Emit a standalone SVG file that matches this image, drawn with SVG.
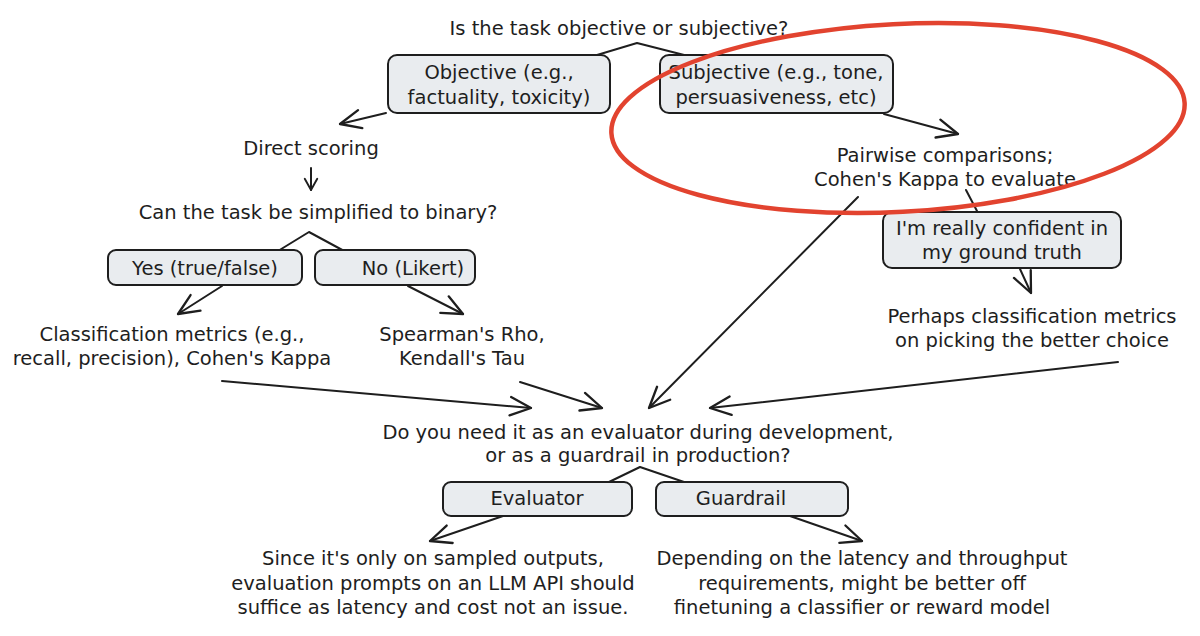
<svg xmlns="http://www.w3.org/2000/svg" width="1200" height="636" viewBox="0 0 1200 636">
  <style>
    .t { font-family: "DejaVu Sans", "Liberation Sans", sans-serif; font-size: 19.5px; fill: #1e1e1e; text-anchor: middle; dominant-baseline: central; }
    .box { fill: #e9ecef; stroke: #1e1e1e; stroke-width: 2; }
    .c { fill: none; stroke: #1e1e1e; stroke-width: 2; stroke-linecap: round; stroke-linejoin: round; }
    .a { marker-end: url(#ah); }
    .hl { fill: none; stroke: #e2432f; stroke-width: 4.5; }
  </style>
  <defs>
    <marker id="ah" markerUnits="userSpaceOnUse" markerWidth="30" markerHeight="30" refX="0" refY="0" viewBox="-22 -12 26 24" orient="auto" overflow="visible">
      <path d="M -18 -8 L 0 0 L -18 8" fill="none" stroke="#1e1e1e" stroke-width="2" stroke-linecap="round" stroke-linejoin="round"/>
    </marker>
    <marker id="ahs" markerUnits="userSpaceOnUse" markerWidth="20" markerHeight="20" refX="0" refY="0" viewBox="-12 -8 16 16" orient="auto" overflow="visible">
      <path d="M -9 -5 L 0 0 L -9 5" fill="none" stroke="#1e1e1e" stroke-width="1.5" stroke-linecap="round" stroke-linejoin="round"/>
    </marker>
  </defs>
  <rect width="1200" height="636" fill="#ffffff"/>

  <g id="connectors">
    <polyline class="c" points="597,55 637,43 692,57"/>
    <line class="c a" x1="386" y1="113" x2="340" y2="124"/>
    <line class="c" x1="311" y1="168" x2="311" y2="190" stroke-width="1.5" marker-end="url(#ahs)"/>
    <polyline class="c" points="278,251 309,232 346,252"/>
    <line class="c a" x1="222" y1="286" x2="178" y2="314"/>
    <line class="c a" x1="408" y1="286" x2="463" y2="314"/>
    <line class="c a" x1="884" y1="114" x2="958" y2="134"/>
    <line class="c" x1="966" y1="190" x2="977" y2="211" stroke-width="1.5"/>
    <line class="c a" x1="1020" y1="269" x2="1031" y2="293"/>
    <line class="c a" x1="222" y1="381" x2="531" y2="408"/>
    <line class="c a" x1="520" y1="382" x2="602" y2="408"/>
    <line class="c a" x1="858" y1="197" x2="649" y2="408"/>
    <line class="c a" x1="1118" y1="362" x2="710" y2="408"/>
    <polyline class="c" points="609,482 640,467 684,482"/>
    <line class="c a" x1="503" y1="516" x2="430" y2="541"/>
    <line class="c a" x1="790" y1="516" x2="862" y2="541"/>
  </g>

  <g id="q1">
    <text class="t" x="619" y="28">Is the task objective or subjective?</text>
  </g>
  <g id="objective">
    <rect class="box" x="388" y="55" width="222" height="58" rx="9"/>
    <text class="t" x="499" y="72">Objective (e.g.,</text>
    <text class="t" x="499" y="97">factuality, toxicity)</text>
  </g>
  <g id="subjective">
    <rect class="box" x="660" y="55" width="233" height="58" rx="9"/>
    <text class="t" x="776" y="72">Subjective (e.g., tone,</text>
    <text class="t" x="776" y="97">persuasiveness, etc)</text>
  </g>
  <g id="direct">
    <text class="t" x="311" y="148">Direct scoring</text>
  </g>
  <g id="q2">
    <text class="t" x="318" y="212">Can the task be simplified to binary?</text>
  </g>
  <g id="yes">
    <rect class="box" x="108" y="250" width="194" height="35" rx="8"/>
    <text class="t" x="205" y="268">Yes (true/false)</text>
  </g>
  <g id="no">
    <rect class="box" x="315" y="250" width="160" height="35" rx="8"/>
    <text class="t" x="413" y="268">No (Likert)</text>
  </g>
  <g id="classification">
    <text class="t" x="172" y="334">Classification metrics (e.g.,</text>
    <text class="t" x="172" y="358">recall, precision), Cohen's Kappa</text>
  </g>
  <g id="spearman">
    <text class="t" x="462" y="334">Spearman's Rho,</text>
    <text class="t" x="462" y="358">Kendall's Tau</text>
  </g>
  <g id="pairwise">
    <text class="t" x="945" y="155">Pairwise comparisons;</text>
    <text class="t" x="945" y="179">Cohen's Kappa to evaluate</text>
  </g>
  <g id="confident">
    <rect class="box" x="883" y="212" width="238" height="56" rx="9"/>
    <text class="t" x="1002" y="228">I'm really confident in</text>
    <text class="t" x="1002" y="252">my ground truth</text>
  </g>
  <g id="perhaps">
    <text class="t" x="1032" y="316">Perhaps classification metrics</text>
    <text class="t" x="1032" y="340">on picking the better choice</text>
  </g>
  <g id="q3">
    <text class="t" x="638" y="432">Do you need it as an evaluator during development,</text>
    <text class="t" x="638" y="455">or as a guardrail in production?</text>
  </g>
  <g id="evaluator">
    <rect class="box" x="443" y="482" width="189" height="34" rx="8"/>
    <text class="t" x="537" y="498">Evaluator</text>
  </g>
  <g id="guardrail">
    <rect class="box" x="656" y="482" width="192" height="34" rx="8"/>
    <text class="t" x="741" y="498">Guardrail</text>
  </g>
  <g id="since">
    <text class="t" x="433" y="558">Since it's only on sampled outputs,</text>
    <text class="t" x="433" y="583">evaluation prompts on an LLM API should</text>
    <text class="t" x="433" y="607">suffice as latency and cost not an issue.</text>
  </g>
  <g id="depending">
    <text class="t" x="862" y="558">Depending on the latency and throughput</text>
    <text class="t" x="862" y="583">requirements, might be better off</text>
    <text class="t" x="862" y="607">finetuning a classifier or reward model</text>
  </g>
  <g id="highlight">
    <ellipse class="hl" cx="898" cy="118" rx="287" ry="94" transform="rotate(-3 898 118)"/>
  </g>
</svg>
